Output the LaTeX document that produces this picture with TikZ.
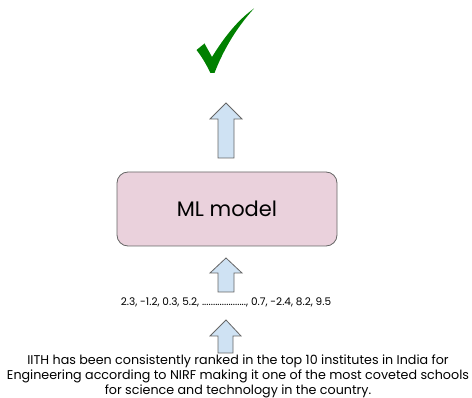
\documentclass[tikz,border=0pt]{standalone}
\usepackage{fontspec}
\setmainfont{Poppins}
\definecolor{boxpink}{HTML}{EAD1DC}
\definecolor{arrowblue}{HTML}{CFE2F3}
\definecolor{edgegray}{HTML}{666666}
\definecolor{checkgreen}{HTML}{008000}
\tikzset{
  uparrow/.style={fill=arrowblue, draw=edgegray, line width=0.8pt, line join=miter},
  modelbox/.style={rounded corners=11pt, fill=boxpink, draw=edgegray, line width=0.8pt},
}
\begin{document}
\begin{tikzpicture}[x=1pt,y=-1pt]
\useasboundingbox (0,0) rectangle (472,398);
% check mark
\fill[checkgreen] (196.5,50) -- (204.5,43.5) -- (212,57) .. controls (225,36) and (238,20) .. (254,8.5)
  .. controls (238,26) and (224,48) .. (214.5,73) -- (210.5,73) .. controls (206,64) and (202,57) .. cycle;
% arrow above box
\draw[uparrow] (226,103) -- (242,119) -- (234,119) -- (234,158) -- (218,158) -- (218,119) -- (210,119) -- cycle;
% model box
\node[modelbox, minimum width=220pt, minimum height=74pt, font=\fontsize{21}{24}\selectfont] (model) at (227,209) {ML model};
% arrow between numbers and box
\draw[uparrow] (226,258) -- (242,273) -- (234,273) -- (234,292) -- (218,292) -- (218,273) -- (210,273) -- cycle;
\node[font=\fontsize{10.5}{12}\selectfont, inner sep=0pt] (nums) at (226,302) {2.3, -1.2, 0.3, 5.2, ...................., 0.7, -2.4, 8.2, 9.5};
% arrow between text and numbers
\draw[uparrow] (226,320) -- (241,336) -- (233,336) -- (233,353) -- (218,353) -- (218,336) -- (210,336) -- cycle;
\node[font=\fontsize{12.7}{15}\selectfont, align=center, inner sep=0pt] (text) at (238,376) {IITH has been consistently ranked in the top 10 institutes in India for\\Engineering according to NIRF making it one of the most coveted schools\\for science and technology in the country.};
\end{tikzpicture}
\end{document}
